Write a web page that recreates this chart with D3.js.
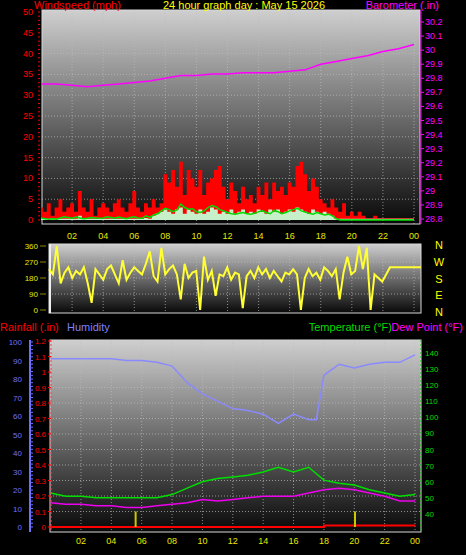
<!DOCTYPE html>
<html><head><meta charset="utf-8">
<script src="https://cdn.jsdelivr.net/npm/d3@7"></script>
<style>body{margin:0;background:#000}svg{display:block;font-family:"Liberation Sans",Arial,sans-serif}</style>
</head><body><div id="chart"></div>
<script>
// quarter-hour samples, 0..24h
const gust = [3,2,4,1,3,5,2,3, 4,2,7,3,2,5,1,3, 4,3,2,4,5,3,2,4, 7,3,2,4,3,5,3,4,
  11,9,12,8,14,6,12,10, 8,12,6,9,10,12,13,8, 5,9,7,4,8,5,6,4, 8,6,9,5,9,7,8,6,
  9,8,13,14,11,7,10,8, 5,4,3,5,3,2,4,1, 2,1,2,1,0.4,0.4,1,0.4, 0.4,0.4,0.4,0.4,0.4,0.4,0.4,0.4,0.4];
const avgWind = [0.5,0.3,0.2,0.3,0.2,0.5,0.8,0.6, 0.4,0.7,0.5,0.3,0.4,0.6,0.5,0.4, 0.5,0.8,0.6,0.4,0.7,0.5,0.3,0.6, 0.8,0.5,0.4,1,0.6,1.2,1.5,2.2,
  2.8,2.5,2,2.4,3.8,3,2.6,2.7, 2,1.8,2.2,3,3.5,3.2,2.5,2.2, 1.8,1.5,1.4,1.6,1.8,1.5,1.4,1.6, 2,2.2,1.8,1.5,2.3,2,1.5,1.8,
  2.2,2.5,2.8,2.2,1.9,1.6,1.4,1.8, 1.5,1.2,1.4,1,0.3,0,0,0, 0,0,0,0,0,0,0,0, 0,0,0,0,0,0,0,0,0];
const speed = [0.3,0.3,0.3,0.3,0.3,0.3,0.3,0.3, 0.3,0.3,1,0.3,0.3,0.3,0.3,0.3, 0.3,0.3,0.3,0.3,0.3,0.3,0.3,0.3, 0.3,0.3,0.3,0.5,0.3,1,1.5,2,
  2.5,2,1.5,2.5,3,1.5,2.5,2, 1.5,2.5,1.5,2,3,2.5,1.5,2, 1.5,2.5,1.5,2,2.5,1.5,2,1.5, 2.5,2,1.5,2.5,2,2.5,1.5,2,
  2.5,2,3,2.5,2,1.5,2.5,2, 1.5,2,1.5,1,0.3,0.3,0.3,0.3, 0.3,0.3,0.3,0.3,0.3,0.3,0.3,0.3, 0.3,0.3,0.3,0.3,0.3,0.3,0.3,0.3,0.3];
const dir = [230,200,360,150,210,240,180,220, 200,240,150,40,230,200,170,230, 250,200,150,280,170,210,240,220, 200,260,330,190,160,350,200,230,
  250,200,60,260,180,210,220,0, 300,170,220,80,200,190,240,170, 210,200,10,190,220,180,240,200, 230,180,220,190,160,210,200,230,
  200,0,180,230,190,210,170,240, 220,190,230,60,210,300,200,220, 360,230,350,0,200,180,160,200, 240,240,240,240,240,240,240,240,240];
// hourly samples
const hours = d3.range(25);
const baro = [29.76,29.76,29.75,29.74,29.75,29.76,29.77,29.78,29.80,29.82,29.82,29.83,29.83,29.84,29.84,29.84,29.85,29.86,29.90,29.92,29.94,29.96,29.99,30.01,30.04];
const humHours = [0,1,2,3,4,5,6,7,8,9,10,11,12,13,14,15,16,17,17.5,18,19,20,21,22,23,24];
const humidity = [91,91,91,91,91,90,90,89,87,78,72,68,64,63,61,56,61,58,58,82,88,86,88,89,89,93];
const temp = [53,51,51,50,50,50,50,50,52,56,60,62,63,64,66,69,66,69,61,59,58,55,53,51,52];
const dew = [47,46,46,45,45,44,44,45,46,47,49,48,49,50,51,51,51,53,55,56,55,53,51,48,48];
const rainHours = [0,18,18,24];
const rain = [0,0,0.01,0.01];
const markerHours = [5.6, 20.05];
const hourTicks = [2,4,6,8,10,12,14,16,18,20,22,24];
const tickText = h => String(h % 24).padStart(2, "0");
const quarters = d3.range(97).map(i => i / 4);

const svg = d3.select("#chart").append("svg").attr("width", 466).attr("height", 555);
svg.append("rect").attr("width", 466).attr("height", 555).attr("fill", "#000");
const defs = svg.append("defs");
const grad = defs.append("linearGradient").attr("id", "bg").attr("x1", 0).attr("y1", 0).attr("x2", 0).attr("y2", 1);
grad.append("stop").attr("offset", "0%").attr("stop-color", "#cfcfcf");
grad.append("stop").attr("offset", "100%").attr("stop-color", "#080808");

function panel(x0, x1, y0, y1, xs, ys, yTicks) {
  svg.append("rect").attr("x", x0).attr("y", y0).attr("width", x1 - x0).attr("height", y1 - y0).attr("fill", "url(#bg)");
  const g = svg.append("g").attr("stroke", "#bdbdbd").attr("stroke-width", 1).attr("stroke-dasharray", "1,2").attr("opacity", 0.7);
  hourTicks.forEach(h => g.append("line").attr("x1", xs(h)).attr("x2", xs(h)).attr("y1", y0).attr("y2", y1));
  yTicks.forEach(v => g.append("line").attr("x1", x0).attr("x2", x1).attr("y1", ys(v)).attr("y2", ys(v)));
  svg.append("rect").attr("x", x0).attr("y", y0).attr("width", x1 - x0).attr("height", y1 - y0).attr("fill", "none").attr("stroke", "#d8d8d8");
}
function text(x, y, s, c, anchor, size) {
  svg.append("text").attr("x", x).attr("y", y).attr("fill", c).attr("font-size", size || 10)
    .attr("text-anchor", anchor || "start").text(s);
}
function xLabels(xs, y) {
  hourTicks.forEach(h => text(xs(h), y, tickText(h), "#e8e800", "middle", 9));
}

// ---------- top panel ----------
const x1 = d3.scaleLinear().domain([0, 24]).range([41, 414]);
const yW = d3.scaleLinear().domain([0, 50]).range([220, 12]);
const yB = d3.scaleLinear().domain([28.8, 30.2]).range([219, 22]);
panel(42, 420, 10, 224, x1, yW, d3.range(5, 50, 5));
svg.append("path").datum(quarters).attr("fill", "#ff0000")
  .attr("d", d3.area().curve(d3.curveStep).x(d => x1(d)).y0(yW(0)).y1((d, i) => yW(gust[i])));
svg.append("path").datum(quarters).attr("fill", "#c8f0c8")
  .attr("d", d3.area().curve(d3.curveStep).x(d => x1(d)).y0(yW(0)).y1((d, i) => yW(speed[i])));
svg.append("path").datum(quarters).attr("fill", "none").attr("stroke", "#00dd00").attr("stroke-width", 1.5)
  .attr("d", d3.line().x(d => x1(d)).y((d, i) => yW(avgWind[i])));
svg.append("path").datum(hours).attr("fill", "none").attr("stroke", "#ff00ff").attr("stroke-width", 1.5)
  .attr("d", d3.line().x(d => x1(d)).y((d, i) => yB(baro[i])));
d3.range(0, 51).forEach(v => svg.append("line").attr("x1", 38).attr("x2", 40).attr("y1", yW(v)).attr("y2", yW(v)).attr("stroke", "#ff0000"));
d3.range(0, 51, 5).forEach(v => text(33, yW(v) + 3, v, "#ff0000", "end", 9));
d3.range(28.8, 30.21, 0.1).forEach(v => {
  svg.append("line").attr("x1", 421).attr("x2", 424).attr("y1", yB(v)).attr("y2", yB(v)).attr("stroke", "#ff00ff");
  text(425, yB(v) + 3, +v.toFixed(1), "#ff00ff", "start", 9);
});
svg.append("line").attr("x1", 421).attr("x2", 421).attr("y1", 10).attr("y2", 224).attr("stroke", "#ff00ff");
text(34, 9, "Windspeed (mph)", "#ff0000", "start", 11);
text(244, 9, "24 hour graph day : May 15 2026", "#ffff00", "middle", 11);
text(439, 9, "Barometer (.in)", "#ff00ff", "end", 11);
xLabels(x1, 239);

// ---------- middle panel ----------
const x2 = d3.scaleLinear().domain([0, 24]).range([49, 421]);
const yD = d3.scaleLinear().domain([0, 360]).range([310, 246]);
panel(49, 421, 244, 313, x1, yD, [90, 180, 270]);
svg.append("line").attr("x1", 50).attr("x2", 50).attr("y1", 244).attr("y2", 313).attr("stroke", "#eee").attr("stroke-width", 2);
svg.append("path").datum(quarters).attr("fill", "none").attr("stroke", "#ffff33").attr("stroke-width", 2)
  .attr("d", d3.line().x(d => x2(d)).y((d, i) => yD(dir[i])));
[0, 90, 180, 270, 360].forEach(v => {
  text(38, yD(v) + 3, v, "#e8e800", "end", 8);
  svg.append("line").attr("x1", 40).attr("x2", 46).attr("y1", yD(v)).attr("y2", yD(v)).attr("stroke", "#888800");
});
["N", "W", "S", "E", "N"].forEach((s, i) => text(439, 249 + i * 16.8, s, "#ffff00", "middle", 11));

// ---------- bottom panel ----------
const x3 = d3.scaleLinear().domain([0, 24]).range([50.6, 415]);
const yH = d3.scaleLinear().domain([0, 100]).range([527, 342]);
const yR = d3.scaleLinear().domain([0, 1.2]).range([527, 341]);
const yT = d3.scaleLinear().domain([30, 140]).range([530, 353]);
panel(50, 421, 340, 532, x3, yR, d3.range(0.1, 1.25, 0.1));
svg.append("path").datum(humHours).attr("fill", "none").attr("stroke", "#8a8aff").attr("stroke-width", 1.5)
  .attr("d", d3.line().x(d => x3(d)).y((d, i) => yH(humidity[i])));
svg.append("path").datum(hours).attr("fill", "none").attr("stroke", "#00dd00").attr("stroke-width", 1.5)
  .attr("d", d3.line().x(d => x3(d)).y((d, i) => yT(temp[i])));
svg.append("path").datum(hours).attr("fill", "none").attr("stroke", "#ee00ee").attr("stroke-width", 1.5)
  .attr("d", d3.line().x(d => x3(d)).y((d, i) => yT(dew[i])));
svg.append("path").datum(rainHours).attr("fill", "none").attr("stroke", "#ff0000").attr("stroke-width", 2)
  .attr("d", d3.line().x(d => x3(d)).y((d, i) => yR(rain[i])));
markerHours.forEach(h => svg.append("line").attr("x1", x3(h)).attr("x2", x3(h)).attr("y1", yR(0)).attr("y2", yR(0.1)).attr("stroke", "#c8c800").attr("stroke-width", 2));
svg.append("line").attr("x1", 30).attr("x2", 30).attr("y1", 340).attr("y2", 532).attr("stroke", "#7070ff").attr("stroke-width", 2);
d3.range(0, 101, 10).forEach(v => text(22, yH(v) + 3, v, "#7070ff", "end", 8));
d3.range(0, 101, 2).forEach(v => svg.append("line").attr("x1", 31).attr("x2", 33).attr("y1", yH(v)).attr("y2", yH(v)).attr("stroke", "#7070ff"));
svg.append("line").attr("x1", 51).attr("x2", 51).attr("y1", 340).attr("y2", 532).attr("stroke", "#ff4040").attr("stroke-dasharray", "2,2");
d3.range(0, 1.21, 0.1).forEach(v => {
  text(46, yR(v) + 3, +v.toFixed(1), "#ff0000", "end", 8);
  svg.append("line").attr("x1", 48).attr("x2", 51).attr("y1", yR(v)).attr("y2", yR(v)).attr("stroke", "#ff0000");
});
svg.append("line").attr("x1", 421).attr("x2", 421).attr("y1", 340).attr("y2", 532).attr("stroke", "#00cc00").attr("stroke-dasharray", "2,2");
d3.range(40, 141, 10).forEach(v => text(425, yT(v) + 3, v, "#00dd00", "start", 8));
text(0, 331, "Rainfall (.in)", "#ff0000", "start", 11);
text(67, 331, "Humidity", "#8080ff", "start", 11);
text(392, 331, "Temperature (°F)", "#00dd00", "end", 11);
text(463, 331, "Dew Point (°F)", "#ff00ff", "end", 11);
xLabels(x3, 544);
</script></body></html>
